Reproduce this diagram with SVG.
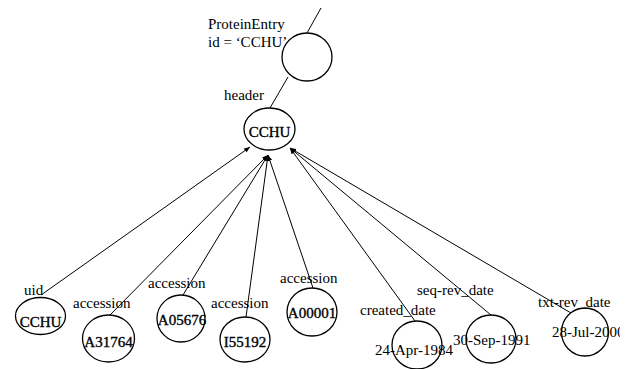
<svg xmlns="http://www.w3.org/2000/svg" width="634" height="369" viewBox="0 0 634 369">
<style>
.n{fill:none;stroke:#000;stroke-width:1.3}
.e{stroke:#000;stroke-width:1;fill:none}
text{font-family:'Liberation Serif','Times New Roman','DejaVu Serif',serif;font-size:15px;fill:#000}
.v{text-anchor:middle;stroke:#000;stroke-width:0.35}
</style>
<defs>
<marker id="ah" viewBox="0 0 10 10" refX="10" refY="5" markerWidth="6" markerHeight="6" orient="auto" markerUnits="userSpaceOnUse">
<path d="M0,1 L10,5 L0,9 z" fill="#000"/>
</marker>
<clipPath id="cr"><rect x="0" y="0" width="620" height="369"/></clipPath>
</defs>
<rect width="634" height="369" fill="#fff"/>
<g id="connectors">
<line class="e" x1="321" y1="8" x2="307" y2="33"/>
<line class="e" x1="288" y1="77" x2="270" y2="108"/>
<line class="e" x1="41" y1="295" x2="250" y2="147" marker-end="url(#ah)"/>
<line class="e" x1="110" y1="315" x2="268" y2="155" marker-end="url(#ah)"/>
<line class="e" x1="183" y1="295" x2="268" y2="155" marker-end="url(#ah)"/>
<line class="e" x1="246" y1="317" x2="268" y2="155" marker-end="url(#ah)"/>
<line class="e" x1="313" y1="288" x2="268" y2="155" marker-end="url(#ah)"/>
<line class="e" x1="415" y1="321" x2="290" y2="148" marker-end="url(#ah)"/>
<line class="e" x1="491" y1="315" x2="290" y2="148" marker-end="url(#ah)"/>
<line class="e" x1="571" y1="313" x2="290" y2="148" marker-end="url(#ah)"/>
</g>
<g id="protein-entry">
<ellipse class="n" cx="307" cy="57" rx="25" ry="24"/>
<text x="208" y="29" font-family="Liberation Serif, serif">ProteinEntry</text>
<text x="208" y="47" font-family="Liberation Serif, serif">id = ‘CCHU’</text>
</g>
<g id="header">
<ellipse class="n" cx="269.5" cy="129" rx="25.5" ry="21"/>
<text x="224" y="100" font-family="Liberation Serif, serif">header</text>
<text class="v" x="269.5" y="137" font-family="Liberation Serif, serif">CCHU</text>
</g>
<g id="uid">
<ellipse class="n" cx="40.5" cy="316" rx="25" ry="18.5"/>
<text x="24" y="295" font-family="Liberation Serif, serif">uid</text>
<text class="v" x="40.5" y="327" font-family="Liberation Serif, serif">CCHU</text>
</g>
<g id="acc1">
<ellipse class="n" cx="108.5" cy="338.5" rx="26" ry="23.5"/>
<text x="73" y="308" font-family="Liberation Serif, serif">accession</text>
<text class="v" x="108.5" y="347" font-family="Liberation Serif, serif">A31764</text>
</g>
<g id="acc2">
<ellipse class="n" cx="181" cy="318.5" rx="24" ry="23.5"/>
<text x="148" y="288" font-family="Liberation Serif, serif">accession</text>
<text class="v" x="182" y="325" font-family="Liberation Serif, serif">A05676</text>
</g>
<g id="acc3">
<ellipse class="n" cx="245" cy="339.5" rx="25" ry="22.5"/>
<text x="211" y="308" font-family="Liberation Serif, serif">accession</text>
<text class="v" x="245" y="347" font-family="Liberation Serif, serif">I55192</text>
</g>
<g id="acc4">
<ellipse class="n" cx="312" cy="312" rx="25" ry="24"/>
<text x="280" y="283" font-family="Liberation Serif, serif">accession</text>
<text class="v" x="312" y="318" font-family="Liberation Serif, serif">A00001</text>
</g>
<g id="created">
<ellipse class="n" cx="417" cy="345" rx="25" ry="24"/>
<text x="360" y="315" font-family="Liberation Serif, serif">created_date</text>
<text x="375" y="355" font-family="Liberation Serif, serif">24-Apr-1984</text>
</g>
<g id="seqrev">
<ellipse class="n" cx="491" cy="339" rx="25" ry="24"/>
<text x="417" y="295" font-family="Liberation Serif, serif">seq-rev_date</text>
<text x="453" y="345" font-family="Liberation Serif, serif">30-Sep-1991</text>
</g>
<g id="txtrev">
<ellipse class="n" cx="585" cy="332" rx="23.5" ry="24"/>
<text x="538" y="307" font-family="Liberation Serif, serif">txt-rev_date</text>
<text x="552" y="337" clip-path="url(#cr)" font-family="Liberation Serif, serif">28-Jul-2000</text>
</g>
</svg>
